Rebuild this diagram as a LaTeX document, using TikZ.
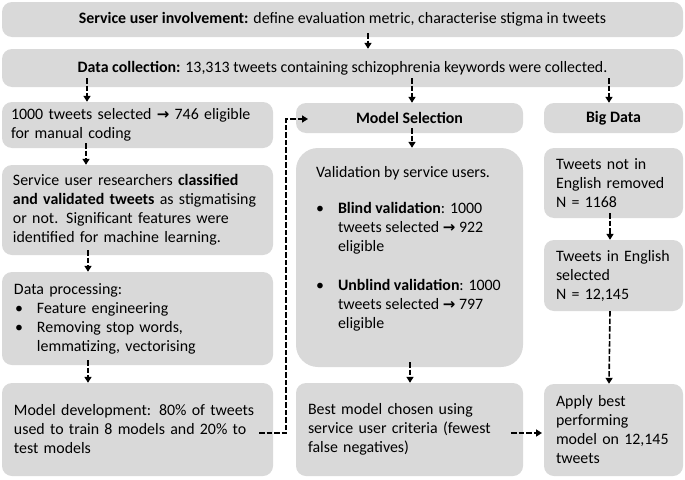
\documentclass[tikz,border=0pt]{standalone}
\usepackage{fontspec}
\setmainfont{Carlito}
\newfontfamily\symf{DejaVu Sans}
\usetikzlibrary{arrows.meta}
\definecolor{boxgray}{HTML}{D9D9D9}
\newcommand{\myarrow}{{\symf\bfseries\fontsize{15}{19}\selectfont →}}
\newcommand{\mybul}{\makebox[22pt][l]{\textbullet}}
\newcommand{\LS}[1]{\leftskip=#1\relax}
\begin{document}
\begin{tikzpicture}[x=1pt,y=-1pt,
  font=\fontsize{15.9}{19}\selectfont,
  box/.style={fill=boxgray, draw=none, rounded corners=10pt, inner ysep=0pt, inner xsep=0pt},
  lbox/.style={box, align=left, inner xsep=3pt},
  arr/.style={draw=black, line width=1.6pt, dash pattern=on 5.5pt off 2pt, -{Triangle[length=6pt,width=7pt]}}]
\fill[white] (0,0) rectangle (685,479);
\useasboundingbox (0,0) rectangle (685,479);

% top rows
\node[box, minimum width=681pt, minimum height=35pt] (top) at (342.5,19.5)
  {\textbf{Service user involvement:} define evaluation metric, characterise stigma in tweets};
\node[box, minimum width=681pt, minimum height=38pt] (coll) at (342.5,68)
  {\textbf{Data collection:} 13,313 tweets containing schizophrenia keywords were collected.};

% left column
\node[lbox, text width=265pt, minimum height=46pt] (A) at (137.5,125)
  {\LS{6pt}1000 tweets selected \myarrow{} 746 eligible\\for manual coding\par};
\node[lbox, text width=265pt, minimum height=90pt] (B) at (137.5,210)
  {\LS{8pt}Service user researchers \textbf{classified}\\\textbf{and validated tweets} as stigmatising\\or not. Significant features were\\identified for machine learning.\par};
\node[lbox, text width=265pt, minimum height=93pt] (C) at (137.5,318.5)
  {\LS{9pt}Data processing:\\\hspace*{1pt}\mybul Feature engineering\\\hspace*{1pt}\mybul Removing stop words,\\\hspace*{23pt}lemmatizing, vectorising\par};
\node[lbox, text width=265pt, minimum height=93pt] (D) at (137.5,429.5)
  {\LS{9pt}Model development: 80\% of tweets\\used to train 8 models and 20\% to\\test models\par};

% middle column
\node[box, minimum width=227pt, minimum height=30pt] (MS) at (409.5,118) {\textbf{Model Selection}};
\node[box, rounded corners=22pt, minimum width=227pt, minimum height=219pt] (E) at (409.5,257.5)
  {\parbox[c][219pt][t]{187pt}{\raggedright\vspace*{18pt}Validation by service users.\\[17pt]
   \mybul\textbf{Blind validation}: 1000\\\hspace*{22pt}tweets selected \myarrow{} 922\\\hspace*{22pt}eligible\\[20pt]
   \mybul\textbf{Unblind validation}: 1000\\\hspace*{22pt}tweets selected \myarrow{} 797\\\hspace*{22pt}eligible}};
\node[lbox, text width=221pt, minimum height=93pt] (F) at (409.5,429.5)
  {\LS{9pt}Best model chosen using\\service user criteria (fewest\\false negatives)\par};

% right column
\node[box, minimum width=139pt, minimum height=30pt] (BD) at (613.5,118) {\textbf{Big Data}};
\node[lbox, text width=133pt, minimum height=70pt] (G) at (613.5,183)
  {\LS{9pt}Tweets not in\\English removed\\N = 1168\par};
\node[lbox, text width=133pt, minimum height=71pt] (H) at (613.5,275.5)
  {\LS{9pt}Tweets in English\\selected\\N = 12,145\par};
\node[lbox, text width=133pt, minimum height=92pt] (I) at (613.5,430)
  {\LS{9pt}Apply best\\performing\\model on 12,145\\tweets\par};

% connectors
\draw[arr] ([xshift=25.5pt,yshift=4pt]top.south) -- ([xshift=25.5pt]coll.north);
\draw[arr] ([xshift=-255.5pt,yshift=9pt]coll.south) -- ([xshift=-50.5pt]A.north);
\draw[arr] ([xshift=69.5pt,yshift=9pt]coll.south) -- ([xshift=2.5pt]MS.north);
\draw[arr] ([xshift=266.5pt,yshift=9pt]coll.south) -- ([xshift=-4.5pt]BD.north);
\draw[arr] ([xshift=-51.5pt,yshift=5pt]A.south) -- ([xshift=-51.5pt]B.north);
\draw[arr] ([xshift=-49.5pt,yshift=5pt]B.south) -- ([xshift=-49.5pt]C.north);
\draw[arr] ([xshift=-49.5pt,yshift=5pt]C.south) -- ([xshift=-49.5pt]D.north);
\draw[arr] ([xshift=2.5pt,yshift=5pt]MS.south) -- ([xshift=2.5pt]E.north);
\draw[arr] ([xshift=0.5pt,yshift=5pt]E.south) -- ([xshift=0.5pt]F.north);
\draw[arr] ([xshift=-3.5pt,yshift=5pt]G.south) -- ([xshift=-3.5pt]H.north);
\draw[arr] ([xshift=-3.5pt]H.south) -- ([xshift=-4.5pt]I.north);
\draw[arr] ([xshift=121.5pt,yshift=-3.5pt]D.center) -- ++(27,0) |- ([xshift=-101.5pt,yshift=-1pt]MS.center);
\draw[arr] ([xshift=101.5pt,yshift=-3.5pt]F.center) -- ([xshift=-71.5pt,yshift=-3pt]I.center);
\end{tikzpicture}
\end{document}
